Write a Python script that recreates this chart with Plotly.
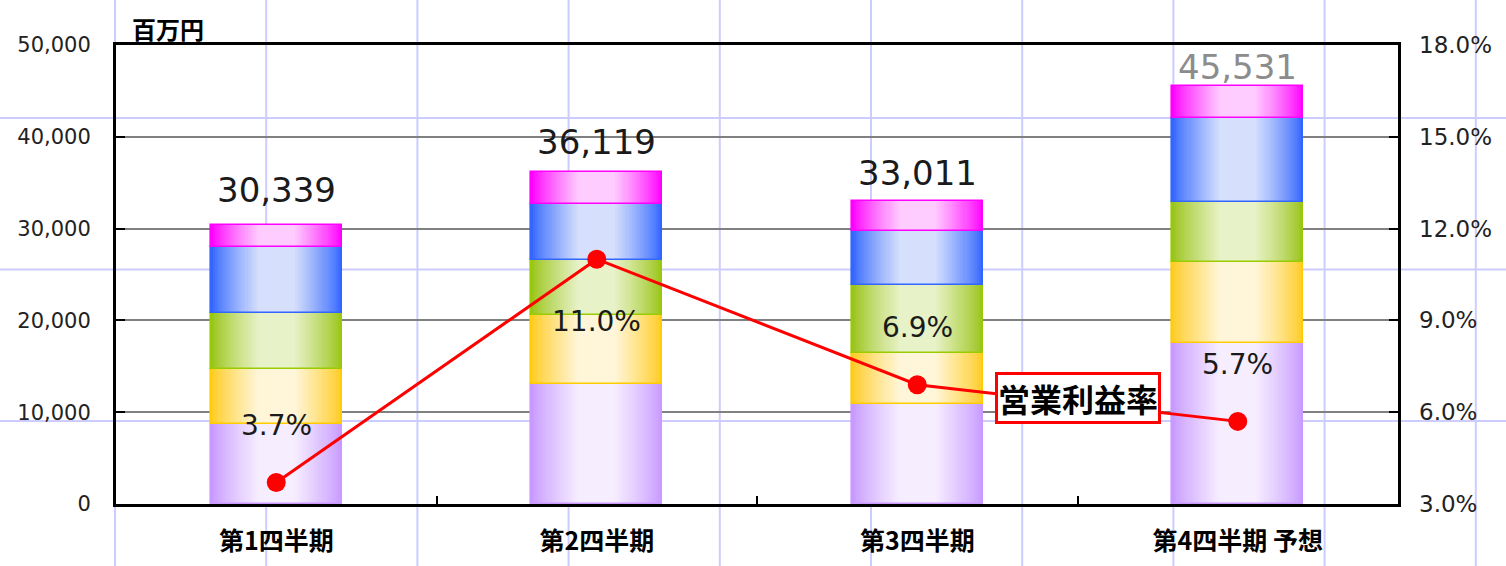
import plotly.graph_objects as go

# 四半期ごとの売上高（百万円）と営業利益率
categories = ["第1四半期", "第2四半期", "第3四半期", "第4四半期 予想"]
seg_purple = [8710, 13040, 10890, 17570]
seg_yellow = [5990, 7550, 5530, 8830]
seg_green = [6070, 5990, 7440, 6460]
seg_blue = [7260, 6100, 5910, 9240]
seg_pink = [2309, 3439, 3241, 3431]
totals = [30339, 36119, 33011, 45531]
op_margin = [3.7, 11.0, 6.9, 5.7]

# label styling per quarter
total_colors = ["#1a1a1a", "#1a1a1a", "#1a1a1a", "#8c8c8c"]
total_offsets = [35, 30, 28, 19]
margin_offsets = [57, -62, 57, 57]

W, H = 1506, 566
ML, MR, MT, MB = 116, 108, 45, 62
PW, PH = W - ML - MR, H - MT - MB

BAR_W = 0.41
STEPS = 32
NUM_FONT = "DejaVu Sans, Arial, sans-serif"
JP_FONT = "Noto Sans CJK JP, sans-serif"

# (values, edge colour, centre colour, outline colour) for each stacked layer
layers = [
    (seg_purple, (199, 153, 255), (246, 238, 255), "#cc99ff"),
    (seg_yellow, (255, 204, 34), (255, 246, 218), "#ffcc00"),
    (seg_green, (153, 196, 24), (232, 242, 200), "#99cc00"),
    (seg_blue, (51, 102, 255), (214, 224, 252), "#3366ff"),
    (seg_pink, (255, 0, 255), (255, 204, 255), "#ff00ff"),
]


def mix(a, b, f):
    return "rgb({},{},{})".format(*[round(a[i] + (b[i] - a[i]) * f) for i in range(3)])


def light_amount(t):
    # t: 0 at the bar centre, 1 at the bar edge
    if t <= 0.28:
        return 1.0
    return ((1.0 - t) / 0.72) ** 0.85


fig = go.Figure()

base = [0] * len(categories)
for values, edge, centre, outline in layers:
    for k in range(STEPS):
        t = 1.0 - k / STEPS
        fig.add_trace(go.Bar(
            x=categories, y=values, base=base,
            width=[BAR_W * t] * len(categories),
            marker=dict(color=mix(edge, centre, light_amount(t)), line=dict(width=0)),
            showlegend=False, hoverinfo="skip",
        ))
    fig.add_trace(go.Bar(
        x=categories, y=values, base=base,
        width=[BAR_W] * len(categories),
        marker=dict(color="rgba(0,0,0,0)", line=dict(color=outline, width=1.6)),
        showlegend=False, hoverinfo="skip",
    ))
    base = [b + v for b, v in zip(base, values)]

fig.add_trace(go.Scatter(
    x=categories, y=op_margin, yaxis="y2", mode="lines+markers",
    line=dict(color="#ff0000", width=3),
    marker=dict(color="#ff0000", size=19),
    showlegend=False, hoverinfo="skip",
))

annotations = []
for c, tot, col, off in zip(categories, totals, total_colors, total_offsets):
    annotations.append(dict(
        x=c, y=tot, xref="x", yref="y", text=f"{tot:,}", showarrow=False,
        yanchor="middle", yshift=off,
        font=dict(family=NUM_FONT, size=34, color=col),
    ))
for c, pct, off in zip(categories, op_margin, margin_offsets):
    annotations.append(dict(
        x=c, y=pct, xref="x", yref="y2", text=f"{pct:.1f}%", showarrow=False,
        yanchor="middle", yshift=off,
        font=dict(family=NUM_FONT, size=28, color="#1a1a1a"),
    ))
annotations.append(dict(
    x=0.75, y=0.232, xref="paper", yref="paper", text="営業利益率", showarrow=False,
    xanchor="center", yanchor="middle",
    font=dict(family=JP_FONT, size=32, color="#000000", weight="bold"),
    bgcolor="#ffffff", bordercolor="#ff0000", borderwidth=3, borderpad=0,
))
annotations.append(dict(
    x=(130 - ML) / PW, y=(H - MB - 28) / PH, xref="paper", yref="paper",
    text="百万円", showarrow=False, xanchor="left", yanchor="middle",
    font=dict(family=JP_FONT, size=24, color="#000000", weight="bold"),
))

# light lavender page grid behind the chart
shapes = []
for i in range(10):
    px = 115 + 151.2 * i
    xp = (px - ML) / PW
    shapes.append(dict(type="line", xref="paper", yref="paper", x0=xp, x1=xp,
                       y0=(-MB - 10) / PH, y1=(H - MB + 10) / PH,
                       line=dict(color="#ccccff", width=2), layer="below"))
for j in range(3):
    py = 118 + 151.5 * j
    yp = (H - MB - py) / PH
    shapes.append(dict(type="line", xref="paper", yref="paper", x0=(-ML - 10) / PW,
                       x1=(W - ML + 10) / PW, y0=yp, y1=yp,
                       line=dict(color="#ccccff", width=2), layer="below"))

fig.update_layout(
    width=W, height=H,
    margin=dict(l=ML, r=MR, t=MT, b=MB, pad=0, autoexpand=False),
    paper_bgcolor="#ffffff", plot_bgcolor="rgba(0,0,0,0)",
    barmode="overlay", bargap=0,
    annotations=annotations, shapes=shapes,
    xaxis=dict(
        type="category", showline=True, linecolor="#000000", linewidth=3, mirror=True,
        ticks="inside", tickson="boundaries", ticklen=8, tickwidth=1.5, tickcolor="#000000",
        showgrid=False, zeroline=False, ticklabelstandoff=13, automargin=False,
        tickfont=dict(family=JP_FONT, size=25, color="#000000", weight="bold"),
    ),
    yaxis=dict(
        range=[0, 50000], dtick=10000, tickformat=",", showline=True, linecolor="#000000",
        linewidth=3, mirror=True, ticks="inside", ticklen=9, tickwidth=2, tickcolor="#000000",
        showgrid=True, gridcolor="#808080", gridwidth=1.5, zeroline=False, automargin=False,
        ticklabelstandoff=18, tickfont=dict(family=NUM_FONT, size=21, color="#222222"),
    ),
    yaxis2=dict(
        range=[3, 18], dtick=3, tickformat=".1f", ticksuffix="%", overlaying="y", side="right",
        showline=False, ticks="inside", ticklen=9, tickwidth=2, tickcolor="#000000",
        showgrid=False, zeroline=False, ticklabelstandoff=20, automargin=False,
        tickfont=dict(family=NUM_FONT, size=23, color="#222222"),
    ),
)

fig.write_html("out.html")
